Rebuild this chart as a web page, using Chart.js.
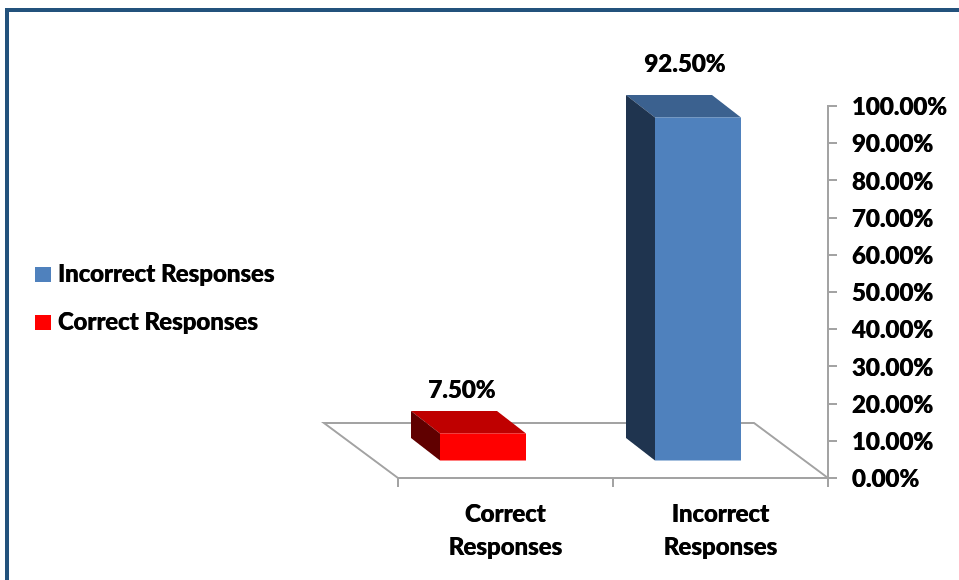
<!DOCTYPE html>
<html>
<head>
<meta charset="utf-8">
<style>
html,body{margin:0;padding:0;background:#fff;width:959px;height:580px;overflow:hidden}
#frame{position:absolute;left:5px;top:8px;right:0;bottom:0;border-left:4px solid #23527c;border-top:4px solid #23527c}
canvas{position:absolute;left:0;top:0}
</style>
<script src="https://cdn.jsdelivr.net/npm/chart.js@4/dist/chart.umd.min.js"></script>
</head>
<body>
<div id="frame"></div>
<canvas id="c" width="959" height="580"></canvas>
<script>
const categories = [['Correct','Responses'],['Incorrect','Responses']];
const correctValues = [7.5, null];
const incorrectValues = [null, 92.5];
const seriesNames = ['Correct Responses','Incorrect Responses'];
const frontColors = ['#ff0000','#4f81bd'];
const topColors = ['#bf0000','#3b618f'];
const sideColors = ['#600000','#1f344f'];
const labelNudges = [[-21,-43],[-13,-53]];

const FONT = 'Lato';
const fontSpec = {family: FONT, size: 24, weight: '900'};
const floorDX = 74, floorDY = 55, shiftX = 22.5, shiftY = 16.5, depthX = 29, depthY = 22.5;
const heavy = 0.6;

function swatch(color){
  const s = document.createElement('canvas');
  s.width = 15; s.height = 15;
  const g = s.getContext('2d');
  g.fillStyle = color; g.fillRect(0,0,15,15);
  return s;
}

// The reference text is heavier than any installed face: paint it twice, a hair apart.
function thicken(owner, method, ctx, dy){
  const original = owner[method];
  owner[method] = function(...args){
    ctx.save();
    ctx.translate(-heavy/2, dy);
    original.apply(this, args);
    ctx.translate(heavy, 0);
    original.apply(this, args);
    ctx.restore();
  };
}

const scene = {
  id: 'scene',
  beforeLayout(chart){
    const lg = chart.legend;
    if (lg && !lg._patched){
      const fit = lg.fit;
      lg.fit = function(){ fit.call(this); this.width = 398 - 16; };
      lg._patched = true;
      thicken(lg, '_draw', chart.ctx, 0);
    }
  },
  afterLayout(chart){
    const lg = chart.legend;
    lg.top = 100; lg.bottom = 496;
    const {x, y} = chart.scales;
    if (!y._patched){
      y._patched = true;
      thicken(y, 'drawLabels', chart.ctx, 1.5);
      thicken(x, 'drawLabels', chart.ctx, 0);
    }
  },
  beforeDatasetsDraw(chart){
    const {ctx, chartArea:a} = chart;
    ctx.save();
    ctx.strokeStyle = '#a3a3a3'; ctx.lineWidth = 2;
    ctx.beginPath();
    ctx.moveTo(a.left, a.bottom);
    ctx.lineTo(a.left-floorDX, a.bottom-floorDY);
    ctx.lineTo(a.right-floorDX, a.bottom-floorDY);
    ctx.lineTo(a.right, a.bottom);
    ctx.stroke();
    ctx.restore();
    ctx.save();
    chart.data.datasets.forEach((ds,i)=>{
      chart.getDatasetMeta(i).data.forEach((b,j)=>{
        if (ds.data[j]==null) return;
        const x0=b.x-b.width/2-shiftX, x1=b.x+b.width/2-shiftX, y0=b.y-shiftY, y1=b.base-shiftY;
        ctx.fillStyle = topColors[i];
        ctx.beginPath();ctx.moveTo(x0,y0);ctx.lineTo(x0-depthX,y0-depthY);ctx.lineTo(x1-depthX,y0-depthY);ctx.lineTo(x1,y0);ctx.closePath();ctx.fill();
        ctx.fillStyle = sideColors[i];
        ctx.beginPath();ctx.moveTo(x0,y0);ctx.lineTo(x0-depthX,y0-depthY);ctx.lineTo(x0-depthX,y1-depthY);ctx.lineTo(x0,y1);ctx.closePath();ctx.fill();
      });
    });
    ctx.translate(-shiftX,-shiftY);
  },
  afterDatasetsDraw(chart){
    const {ctx} = chart;
    ctx.restore();
    ctx.save();
    ctx.fillStyle = '#000';
    ctx.font = `${fontSpec.weight} ${fontSpec.size}px ${FONT}`;
    ctx.textAlign = 'center'; ctx.textBaseline = 'middle';
    chart.data.datasets.forEach((ds,i)=>{
      chart.getDatasetMeta(i).data.forEach((b,j)=>{
        if (ds.data[j]==null) return;
        const n = labelNudges[i], text = ds.data[j].toFixed(2)+'%';
        const tx = b.x-shiftX+n[0], ty = b.y-shiftY+n[1];
        ctx.fillText(text, tx-heavy/2, ty);
        ctx.fillText(text, tx+heavy/2, ty);
      });
    });
    ctx.restore();
  }
};

new Chart(document.getElementById('c'),{
  type:'bar',
  plugins:[scene],
  data:{
    labels:categories,
    datasets:[
      {label:seriesNames[0],data:correctValues,backgroundColor:frontColors[0],clip:false},
      {label:seriesNames[1],data:incorrectValues,backgroundColor:frontColors[1],clip:false}
    ]
  },
  options:{
    responsive:false,
    animation:false,
    events:[],
    font:fontSpec,
    layout:{padding:{left:16,top:106,right:0,bottom:0}},
    datasets:{bar:{categoryPercentage:1,barPercentage:0.4}},
    plugins:{
      tooltip:{enabled:false},
      title:{display:false},
      legend:{
        position:'left',
        align:'center',
        reverse:true,
        labels:{
          usePointStyle:true,
          pointStyleWidth:6,
          padding:24,
          color:'#000',
          font:fontSpec,
          generateLabels(chart){
            return chart.data.datasets.map((d,i)=>({
              text:d.label,datasetIndex:i,fontColor:'#000',
              pointStyle:swatch(d.backgroundColor),hidden:false,lineWidth:0
            }));
          }
        }
      }
    },
    scales:{
      x:{
        stacked:true,
        afterFit(s){s.height=102;},
        border:{color:'#a3a3a3',width:2},
        grid:{drawOnChartArea:false,drawTicks:true,tickLength:9,color:'#a3a3a3',lineWidth:2},
        ticks:{color:'#000',font:{...fontSpec,lineHeight:1.37},padding:11,maxRotation:0,autoSkip:false}
      },
      y:{
        stacked:true,
        position:'right',
        min:0,max:100,
        afterFit(s){s.width=131;},
        border:{color:'#a3a3a3',width:2},
        grid:{drawOnChartArea:false,drawTicks:true,tickLength:9,color:'#a3a3a3',lineWidth:2},
        ticks:{color:'#000',font:fontSpec,padding:15,stepSize:10,callback:v=>v.toFixed(2)+'%'}
      }
    }
  }
});
</script>
</body>
</html>
